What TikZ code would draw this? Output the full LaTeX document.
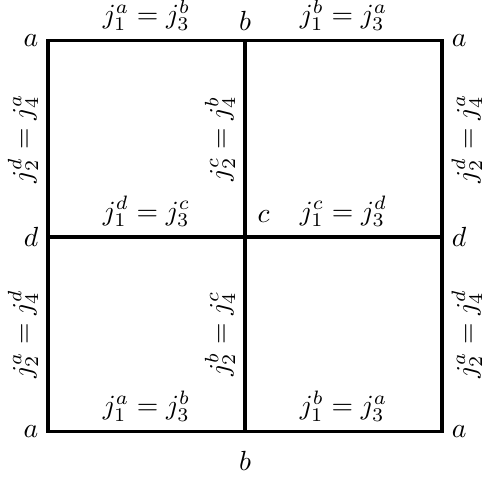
\documentclass[tikz,border=0pt]{standalone}
\usetikzlibrary{calc}
\begin{document}
\begin{tikzpicture}[x=0.01269cm, y=-0.01269cm,
  gridline/.style={line width=1.4pt},
  hlbl/.style={anchor=south},
  vlbl/.style={rotate=90}]
\useasboundingbox (0,0) rectangle (483,477);
\coordinate (TL) at (48,40.5);
\coordinate (TM) at (245,40.5);
\coordinate (TR) at (442,40.5);
\coordinate (ML) at (48,236.7);
\coordinate (C) at (245,236.7);
\coordinate (MR) at (442,236.7);
\coordinate (BL) at (48,431.5);
\coordinate (BM) at (245,431.5);
\coordinate (BR) at (442,431.5);
\draw[gridline] (TL) -- (TR) -- (BR) -- (BL) -- cycle;
\draw[gridline] (TM) -- (BM);
\draw[gridline] (ML) -- (MR);
% corner labels
\node[anchor=east] (aTL) at (TL) {$a$};
\node[anchor=south] (bT) at (TM) {$b$};
\node[anchor=west] (aTR) at (TR) {$a$};
\node[anchor=east] (dL) at (ML) {$d$};
\node[anchor=south west, xshift=1pt, yshift=1.5pt] (cC) at (C) {$c$};
\node[anchor=west] (dR) at (MR) {$d$};
\node[anchor=east] (aBL) at (BL) {$a$};
\node[anchor=north, yshift=-3.5pt] (bB) at (BM) {$b$};
\node[anchor=west] (aBR) at (BR) {$a$};
% horizontal edge labels
\node[hlbl] (h1) at ($(TL)!0.5!(TM)$) {$j_1^a = j_3^b$};
\node[hlbl] (h2) at ($(TM)!0.5!(TR)$) {$j_1^b = j_3^a$};
\node[hlbl] (h3) at ($(ML)!0.5!(C)$) {$j_1^d = j_3^c$};
\node[hlbl] (h4) at ($(C)!0.5!(MR)$) {$j_1^c = j_3^d$};
\node[hlbl] (h5) at ($(BL)!0.5!(BM)$) {$j_1^a = j_3^b$};
\node[hlbl] (h6) at ($(BM)!0.5!(BR)$) {$j_1^b = j_3^a$};
% vertical edge labels
\node[vlbl, anchor=south] (v1) at ($(TL)!0.5!(ML)$) {$j_2^d = j_4^a$};
\node[vlbl, anchor=south] (v2) at ($(TM)!0.5!(C)$) {$j_2^c = j_4^b$};
\node[vlbl, anchor=north] (v3) at ($(TR)!0.5!(MR)$) {$j_2^d = j_4^a$};
\node[vlbl, anchor=south] (v4) at ($(ML)!0.5!(BL)$) {$j_2^a = j_4^d$};
\node[vlbl, anchor=south] (v5) at ($(C)!0.5!(BM)$) {$j_2^b = j_4^c$};
\node[vlbl, anchor=north] (v6) at ($(MR)!0.5!(BR)$) {$j_2^a = j_4^d$};
\end{tikzpicture}
\end{document}
